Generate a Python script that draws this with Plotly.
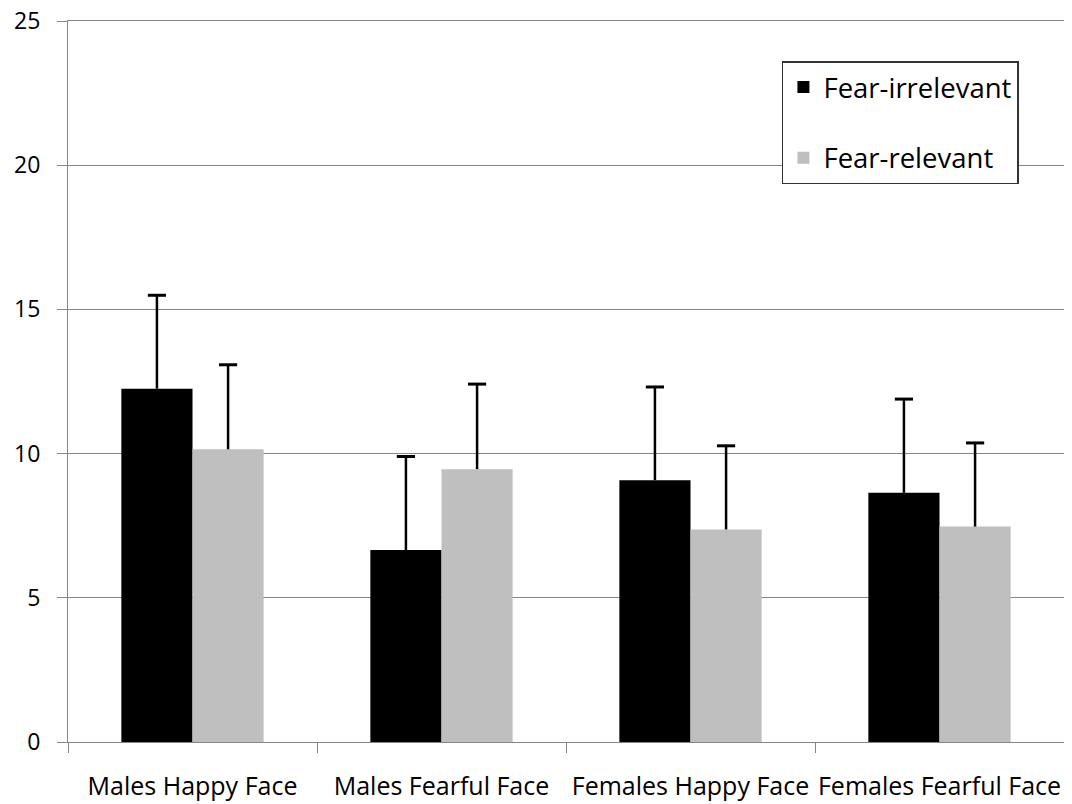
import plotly.graph_objects as go

categories = ["Males Happy Face", "Males Fearful Face", "Females Happy Face", "Females Fearful Face"]
series_names = ["Fear-irrelevant", "Fear-relevant"]
fear_irrelevant = [12.25, 6.66, 9.08, 8.64]
fear_irrelevant_err = [3.24, 3.24, 3.23, 3.25]
fear_relevant = [10.15, 9.46, 7.37, 7.47]
fear_relevant_err = [2.93, 2.95, 2.90, 2.90]
y_ticks = [0, 5, 10, 15, 20, 25]

BLACK = "#000000"
GRAY = "#BFBFBF"
GRID = "#868686"
FONT = "Open Sans"

bargap = 1.5 / 3.5
bar_w = (1 - bargap) / 2

fig = go.Figure()
for name, vals, errs, col, grp in [
    (series_names[0], fear_irrelevant, fear_irrelevant_err, BLACK, "a"),
    (series_names[1], fear_relevant, fear_relevant_err, GRAY, "b"),
]:
    fig.add_trace(go.Bar(
        x=categories, y=vals, name=name, legendgroup=grp,
        marker=dict(color=col, line=dict(width=0)),
        error_y=dict(type="data", symmetric=False, array=errs,
                     arrayminus=[0] * len(errs), width=0, thickness=2.5, color=BLACK),
    ))

# cross-bars only at the top end of each error bar
for k, (vals, errs) in enumerate([(fear_irrelevant, fear_irrelevant_err),
                                  (fear_relevant, fear_relevant_err)]):
    shift = -bar_w / 2 if k == 0 else bar_w / 2
    fig.add_trace(go.Scatter(
        x=[i + shift for i in range(len(categories))],
        y=[v + e for v, e in zip(vals, errs)],
        xaxis="x2", mode="markers", showlegend=False, hoverinfo="skip",
        marker=dict(symbol="line-ew", size=13, color=BLACK,
                    line=dict(width=3, color=BLACK)),
    ))

# the page body adds an 8px offset, so the figure is 8px smaller on each axis
fig.update_layout(
    width=1064, height=796,
    margin=dict(l=60, r=8, t=13, b=62, autoexpand=False),
    paper_bgcolor="white", plot_bgcolor="white",
    barmode="group", bargap=bargap, bargroupgap=0,
    font=dict(family=FONT, color="#000000"),
    showlegend=True,
    legend=dict(
        x=0.7168, y=0.9445, xanchor="left", yanchor="top",
        bgcolor="white", bordercolor="#333333", borderwidth=1.5,
        font=dict(family=FONT, size=27.5, color="#000000"),
        traceorder="grouped", tracegroupgap=32,
    ),
    xaxis=dict(
        type="category", range=[-0.5, 3.5], automargin=False,
        showline=True, linecolor=GRID, linewidth=1, mirror=True,
        ticks="outside", tickson="boundaries", ticklen=10, tickcolor=GRID,
        showgrid=False, tickangle=0,
        tickfont=dict(family=FONT, size=25, color="#000000"),
        ticklabelstandoff=22, ticklabeloverflow="allow",
    ),
    xaxis2=dict(overlaying="x", range=[-0.5, 3.5], visible=False),
    yaxis=dict(
        range=[0, 25], tickvals=y_ticks, automargin=False,
        showline=True, linecolor=GRID, linewidth=1,
        showgrid=True, gridcolor=GRID, gridwidth=1, zeroline=False,
        ticks="outside", ticklen=10, tickcolor=GRID,
        tickfont=dict(family=FONT, size=23, color="#000000"),
        ticklabelstandoff=12, ticklabeloverflow="allow",
    ),
)

fig.write_html("out.html")
